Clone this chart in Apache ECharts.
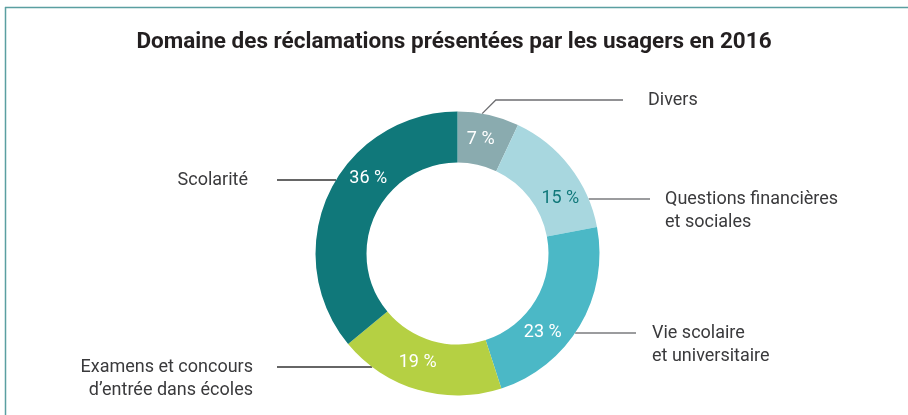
<!DOCTYPE html>
<html>
<head>
<meta charset="utf-8">
<script src="https://cdn.jsdelivr.net/npm/echarts@6/dist/echarts.min.js"></script>
<style>
  html, body { margin: 0; padding: 0; background: #fff; }
  #chart { width: 908px; height: 415px; }
</style>
</head>
<body>
<div id="chart"></div>
<script>
// donnees
var categories = [
  'Divers',
  'Questions financières\net sociales',
  'Vie scolaire\net universitaire',
  'Examens et concours\nd’entrée dans écoles',
  'Scolarité'
]
var values = [7, 15, 23, 19, 36]
var colors = ['#8aabaf', '#a8d7df', '#4bb8c6', '#b5d043', '#10787a']

// mise en page du donut (px)
var cx = 457.5, cy = 253.5, r0 = 91, r1 = 142
var pctAngle = [11.5, 62, 133, 200, 310]   // position des % (degres depuis midi)
var lineY = [100, 199, 333, 367, 180]
var lineOuter = [623, 650, 636, 277, 277]
var textX = [648, 665, 652, 253, 248]
var lineColor = ['#6d6e71', '#7a7b7e', '#7a7b7e', '#333', '#333']

var font = 'Roboto, "DejaVu Sans", sans-serif'
var myChart = echarts.init(document.getElementById('chart'))

var pieData = values.map(function (v, i) {
  return { name: categories[i], value: v, itemStyle: { color: colors[i] } }
})

var option = {
  animation: false,
  title: {
    text: 'Domaine des réclamations présentées par les usagers en 2016',
    left: 'center',
    top: 26,
    textStyle: { fontFamily: font, fontSize: 22.5, fontWeight: 'bold', color: '#231f20' }
  },
  graphic: [
    { type: 'line', shape: { x1: 5, y1: 7.5, x2: 908, y2: 7.5 }, style: { stroke: '#5a9fa1', lineWidth: 1.5 } },
    { type: 'line', shape: { x1: 5.5, y1: 7, x2: 5.5, y2: 415 }, style: { stroke: '#5a9fa1', lineWidth: 1.5 } }
  ],
  series: [
    {
      // anneau + pourcentages
      type: 'pie',
      center: [cx, cy],
      radius: [r0, r1],
      startAngle: 90,
      clockwise: true,
      silent: true,
      avoidLabelOverlap: false,
      label: {
        show: true,
        position: 'inside',
        formatter: '{c} %',
        fontFamily: font,
        fontSize: 18,
        color: '#fff'
      },
      labelLine: { show: false },
      labelLayout: function (p) {
        var a = pctAngle[p.dataIndex] * Math.PI / 180
        var rm = (r0 + r1) / 2
        return {
          x: cx + rm * Math.sin(a),
          y: cy - rm * Math.cos(a),
          align: 'center',
          verticalAlign: 'middle'
        }
      },
      data: pieData.map(function (d, i) {
        return i === 1 ? Object.assign({}, d, { label: { color: '#10787a' } }) : d
      })
    },
    {
      // libelles exterieurs
      type: 'pie',
      center: [cx, cy],
      radius: [r0, r1],
      startAngle: 90,
      clockwise: true,
      silent: true,
      avoidLabelOverlap: false,
      itemStyle: { color: 'rgba(0,0,0,0)' },
      label: {
        show: true,
        position: 'outside',
        formatter: '{b}',
        fontFamily: font,
        fontSize: 18,
        lineHeight: 23,
        color: '#3a3a3c'
      },
      labelLine: { show: true, length: 10, length2: 10, lineStyle: { width: 1.3 } },
      labelLayout: function (p) {
        var i = p.dataIndex
        var y = lineY[i]
        var right = textX[i] > cx
        var pts
        if (i === 0) {
          var a = 10 * Math.PI / 180
          var ex = cx + r1 * Math.sin(a), ey = cy - r1 * Math.cos(a)
          pts = [[ex, ey], [ex + (ey - y), y], [lineOuter[i], y]]
        } else {
          var dx = Math.sqrt(r1 * r1 - (y - cy) * (y - cy))
          var ex2 = right ? cx + dx : cx - dx
          pts = [[ex2, y], [(ex2 + lineOuter[i]) / 2, y], [lineOuter[i], y]]
        }
        return {
          x: textX[i],
          y: y - 11.5,
          align: right ? 'left' : 'right',
          verticalAlign: 'top',
          labelLinePoints: pts
        }
      },
      data: pieData.map(function (d, i) {
        return Object.assign({}, d, {
          itemStyle: { color: 'rgba(0,0,0,0)' },
          labelLine: { lineStyle: { color: lineColor[i] } }
        })
      })
    }
  ]
}

option && myChart.setOption(option)
window.addEventListener('resize', function () {
  myChart.resize()
})
</script>
</body>
</html>
